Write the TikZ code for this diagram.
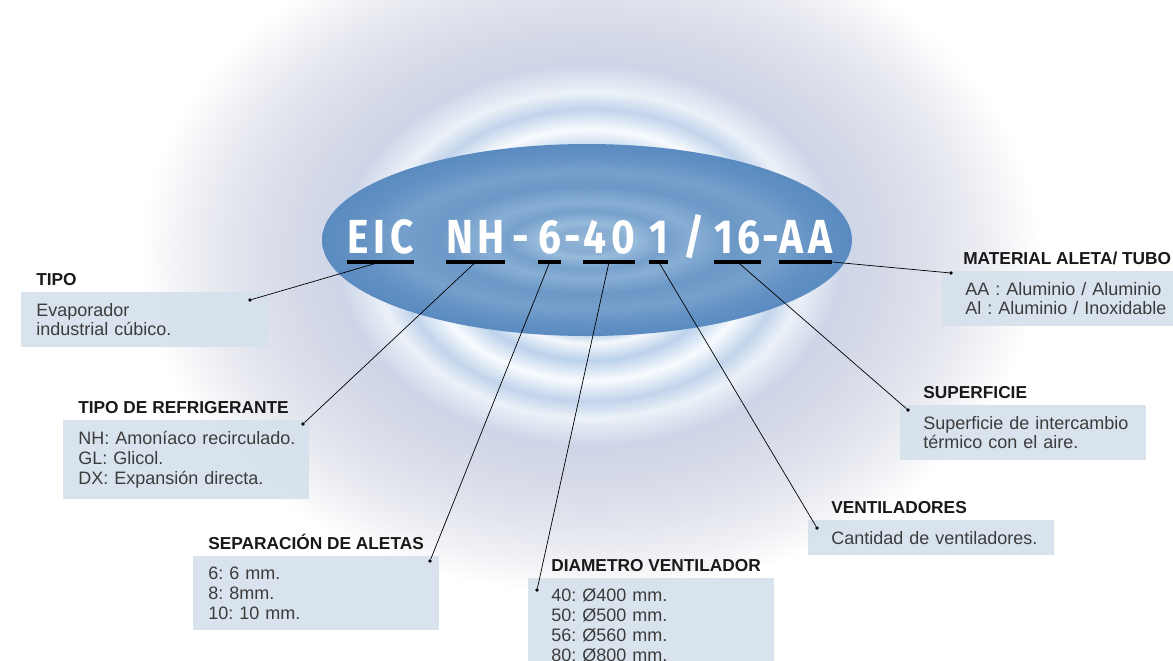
\documentclass[tikz,border=0pt]{standalone}
\usepackage{fontspec}
\setmainfont{Liberation Sans}
\newfontfamily\codefont[FakeStretch=0.85,LetterSpace=10]{Fira Sans}
\usetikzlibrary{positioning}
\frenchspacing

% colours
\definecolor{boxblue}{RGB}{214,225,236}
\definecolor{bodygrey}{RGB}{60,60,60}
\definecolor{headblack}{RGB}{25,25,25}
\definecolor{rA}{RGB}{150,185,220}
\definecolor{rB}{RGB}{165,196,226}
\definecolor{rC}{RGB}{244,248,252}
\definecolor{rD}{RGB}{188,210,235}
\definecolor{rE}{RGB}{248,251,254}
\definecolor{rF}{RGB}{194,212,235}
\definecolor{rG}{RGB}{236,241,248}
\definecolor{rH}{RGB}{205,213,232}
\definecolor{rI}{RGB}{214,218,232}
\definecolor{rJ}{RGB}{225,227,237}
\definecolor{rK}{RGB}{240,241,245}
\definecolor{lA}{RGB}{150,184,216}
\definecolor{lB}{RGB}{135,172,210}
\definecolor{lC}{RGB}{152,187,218}
\definecolor{lD}{RGB}{118,160,204}
\definecolor{lE}{RGB}{136,174,212}
\definecolor{lF}{RGB}{108,152,199}
\definecolor{lG}{RGB}{118,160,204}
\definecolor{lH}{RGB}{98,144,195}
\definecolor{lI}{RGB}{90,139,192}

% ripples round the lens
\pgfdeclareradialshading{ripples}{\pgfpoint{0bp}{0bp}}{%
  color(0bp)=(rA); color(5.5bp)=(rB); color(6.5bp)=(rC); color(7.75bp)=(rD);
  color(9.25bp)=(rE); color(10.75bp)=(rF); color(12bp)=(rG); color(14bp)=(rH);
  color(16.5bp)=(rI); color(19.5bp)=(rJ); color(22.5bp)=(rK); color(25bp)=(white);
  color(50bp)=(white)}
% the blue lens
\pgfdeclareradialshading{lens}{\pgfpoint{0bp}{0bp}}{%
  color(0bp)=(lA); color(3bp)=(lB); color(4.5bp)=(lC); color(7.5bp)=(lD);
  color(10bp)=(lE); color(14bp)=(lF); color(18bp)=(lG); color(22bp)=(lH);
  color(25bp)=(lI); color(50bp)=(lI)}

\tikzset{
  infobox/.style={fill=boxblue, fill opacity=0.92, text opacity=1, text=bodygrey,
    anchor=north west, align=left, text width=6.15cm, inner xsep=0pt,
    inner ysep=0.27cm, font=\fontsize{12.8}{14.1}\selectfont,
    execute at begin node={\leftskip=0.375cm\relax}},
  inforight/.style={infobox, execute at begin node={\leftskip=0.575cm\relax}},
  heading/.style={anchor=base west, inner sep=0, text=headblack,
    font=\bfseries\fontsize{12.3}{14}\selectfont},
  code/.style={anchor=base west, inner sep=0, text=white,
    font=\codefont\bfseries\fontsize{34}{40}\selectfont},
  uline/.style={line width=2.2pt, black},
  leader/.style={line width=0.5pt, black},
  dot/.style={circle, fill=black, inner sep=0, minimum size=0.09cm},
}

\begin{document}
\begin{tikzpicture}[x=0.025cm, y=-0.025cm]
    \useasboundingbox (0,0) rectangle (1173,660);
    \clip (0,0) rectangle (1173,660);

    % Background swirl and lens
    \fill[white] (0,0) rectangle (1173,660);
    \shade[shading=ripples] (590,255) ellipse [x radius=450, y radius=340];
    \shade[shading=lens] (587,240) ellipse [x radius=265, y radius=96];

    % Code
    \node[code] (c-eic) at (347,253) {EIC};
    \node[code] (c-nh) at (446,253) {NH};
    \node[code, anchor=base] (c-dash1) at (521,253) {-};
    \node[code] (c-fins) at (538,253) {6};
    \node[code, anchor=base] (c-dash2) at (573,253) {-};
    \node[code] (c-diam) at (583,253) {40};
    \node[code] (c-fans) at (649,253) {1};
    \node[code] (c-slash) at (683,253) {/};
    \node[code] (c-surf) at (714,253) {16};
    \node[code, anchor=base] (c-dash3) at (771,253) {-};
    \node[code] (c-mat) at (779,253) {AA};

    % Underlines
    \foreach \part in {c-eic,c-nh,c-fins,c-diam,c-fans,c-surf,c-mat}
        \draw[uline] ([yshift=-6.4pt]\part.base west) -- ([yshift=-6.4pt]\part.base east);

    % Boxes
    \node[infobox] (b-tipo) at (21,292) {Evaporador\\industrial cúbico.};
    \node[infobox] (b-refrig) at (63,420) {NH: Amoníaco recirculado.\\GL: Glicol.\\DX: Expansión directa.};
    \node[infobox] (b-sep) at (193,556) {6: 6 mm.\\8: 8mm.\\10: 10 mm.};
    \node[inforight] (b-diam) at (528,578) {40: Ø400 mm.\\50: Ø500 mm.\\56: Ø560 mm.\\80: Ø800 mm.};
    \node[inforight] (b-vent) at (808,520) {Cantidad de ventiladores.};
    \node[inforight] (b-sup) at (900,405) {Superficie de intercambio\\térmico con el aire.};
    \node[inforight] (b-mat) at (942,271) {AA : Aluminio / Aluminio\\Al : Aluminio / Inoxidable};

    % Headings
    \node[heading] (h-tipo) at ([shift={(15,-7)}]b-tipo.north west) {TIPO};
    \node[heading] (h-refrig) at ([shift={(15,-7)}]b-refrig.north west) {TIPO DE REFRIGERANTE};
    \node[heading] (h-sep) at ([shift={(15,-7)}]b-sep.north west) {SEPARACIÓN DE ALETAS};
    \node[heading] (h-diam) at ([shift={(23,-7)}]b-diam.north west) {DIAMETRO VENTILADOR};
    \node[heading] (h-vent) at ([shift={(23,-7)}]b-vent.north west) {VENTILADORES};
    \node[heading] (h-sup) at ([shift={(23,-7)}]b-sup.north west) {SUPERFICIE};
    \node[heading] (h-mat) at ([shift={(21,-7)}]b-mat.north west) {MATERIAL ALETA/ TUBO};

    % Dots
    \node[dot] (d-tipo) at (250,300) {};
    \node[dot] (d-refrig) at (303,424) {};
    \node[dot] (d-sep) at (430,561) {};
    \node[dot] (d-diam) at (537,590) {};
    \node[dot] (d-vent) at (817,528) {};
    \node[dot] (d-sup) at (908,410) {};
    \node[dot] (d-mat) at (951,273) {};

    % Leaders
    \draw[leader] ([yshift=-6.4pt]c-eic.base) -- (d-tipo);
    \draw[leader] ([yshift=-6.4pt]c-nh.base) -- (d-refrig);
    \draw[leader] ([yshift=-6.4pt]c-fins.base) -- (d-sep);
    \draw[leader] ([yshift=-6.4pt]c-diam.base) -- (d-diam);
    \draw[leader] ([yshift=-6.4pt]c-fans.base) -- (d-vent);
    \draw[leader] ([yshift=-6.4pt]c-surf.base) -- (d-sup);
    \draw[leader] ([yshift=-6.4pt]c-mat.base east) -- (d-mat);
\end{tikzpicture}
\end{document}
